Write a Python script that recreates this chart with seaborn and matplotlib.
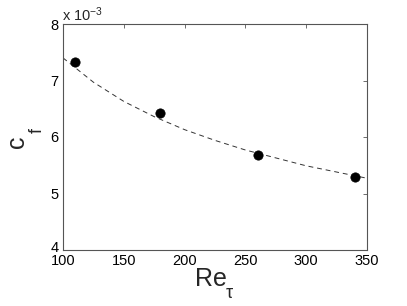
import matplotlib
matplotlib.use("Agg")
import matplotlib.pyplot as plt
import matplotlib.transforms as mtransforms
import seaborn as sns
import pandas as pd
from matplotlib.ticker import FuncFormatter

# Data (c_f in absolute units)
re_tau = [110, 180, 260, 340]
cf = [7.33e-3, 6.42e-3, 5.69e-3, 5.30e-3]

# Dashed fit curve
fit_re = [100, 125, 150, 175, 200, 225, 250, 275, 300, 325, 350]
fit_cf = [7.40e-3, 6.97e-3, 6.63e-3, 6.36e-3, 6.13e-3, 5.94e-3, 5.77e-3,
          5.63e-3, 5.49e-3, 5.38e-3, 5.27e-3]

xticks = [100, 150, 200, 250, 300, 350]
yticks = [4e-3, 5e-3, 6e-3, 7e-3, 8e-3]

sns.set_theme(style="white")
plt.rcParams['font.family'] = ['Liberation Sans', 'DejaVu Sans']
plt.rcParams['mathtext.fontset'] = 'custom'
plt.rcParams['mathtext.rm'] = 'Liberation Sans'
plt.rcParams['mathtext.it'] = 'Liberation Sans'

W, H = 407, 306
fig = plt.figure(figsize=(W / 100, H / 100), dpi=100)
ax = fig.add_axes([63 / W, (H - 250) / H, 304 / W, 226 / H])


def px(x, y):
    return x / W, (H - y) / H


df_pts = pd.DataFrame({"Re": re_tau, "cf": cf})
df_fit = pd.DataFrame({"Re": fit_re, "cf": fit_cf})

sns.lineplot(data=df_fit, x="Re", y="cf", ax=ax, color="#333333",
             linewidth=0.7, linestyle=(0, (5, 4)))
sns.scatterplot(data=df_pts, x="Re", y="cf", ax=ax, color="black",
                s=45, edgecolor="black", linewidth=0.5, zorder=3)

ax.set_xlim(100, 350)
ax.set_ylim(4e-3, 8e-3)
ax.set_xticks(xticks)
ax.set_yticks(yticks)
ax.yaxis.set_major_formatter(FuncFormatter(lambda v, p: f"{v*1e3:g}"))
ax.set_xlabel("")
ax.set_ylabel("")

for s in ax.spines.values():
    s.set_color("#555555")
    s.set_linewidth(0.8)
ax.tick_params(direction="in", length=3, width=0.6, color="#555555",
               top=True, right=True, labelsize=10.5, labelcolor="black", pad=3)

# lift the lowest y tick label a little, as in the reference
fig.canvas.draw()
lbl = ax.get_yticklabels()[0]
lbl.set_transform(lbl.get_transform() +
                  mtransforms.ScaledTranslation(0, 3 / 100, fig.dpi_scale_trans))

# x label: Re with subscript tau
fig.text(*px(195, 286), "Re", fontsize=18, ha="left", va="baseline")
fig.text(*px(226, 298), "\u03c4", fontsize=13, ha="left", va="baseline")
# y label: c with subscript f (rotated)
fig.text(*px(24, 148), "c", fontsize=18, rotation=90, rotation_mode="anchor",
         ha="left", va="baseline")
fig.text(*px(42, 133), "f", fontsize=13, rotation=90, rotation_mode="anchor",
         ha="left", va="baseline")
# exponent marker
fig.text(*px(62, 21), r"x 10$^{-3}$", fontsize=10.5, ha="left", va="baseline")

fig.savefig("out.png", dpi=100)
